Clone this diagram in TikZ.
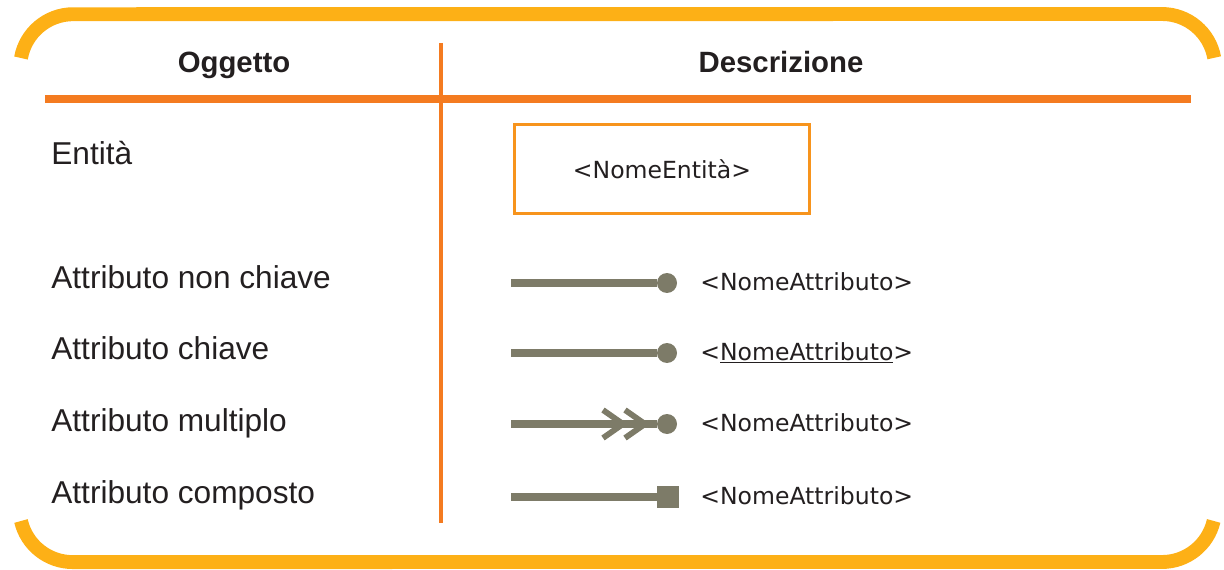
\documentclass[tikz,border=0pt]{standalone}
\usepackage{fontspec}
\setmainfont{Liberation Sans}
\newfontfamily\descfont{DejaVu Sans}
\usepackage{xcolor}
\usepackage{tikz}
\usetikzlibrary{calc}
\usetikzlibrary{positioning}
\definecolor{frameyel}{HTML}{FDB016}
\definecolor{ruleor}{HTML}{F47B20}
\definecolor{boxor}{HTML}{F7941D}
\definecolor{attrgray}{HTML}{7D7B68}
\definecolor{ink}{HTML}{231F20}
\tikzset{>=latex}
\tikzstyle{frame} = [draw=frameyel, line width=7.9pt]
\tikzstyle{head} = [anchor=base, inner sep=0pt, text=ink, font=\bfseries\fontsize{16.7}{20}\selectfont]
\tikzstyle{obj} = [anchor=base west, inner sep=0pt, text=ink, font=\fontsize{18}{20}\selectfont]
\tikzstyle{desc} = [anchor=base west, inner sep=0pt, text=ink, font=\descfont\fontsize{13.4}{16}\selectfont]
\tikzstyle{attr} = [draw=attrgray, line width=4.2pt]
\tikzstyle{chev} = [draw=attrgray, line width=3.3pt]
\tikzstyle{dot} = [circle, fill=attrgray, inner sep=0pt, minimum size=0.4cm]
\tikzstyle{sq} = [rectangle, fill=attrgray, inner sep=0pt, minimum size=0.43cm]

\begin{document}
\begin{tikzpicture}[x=0.02cm, y=0.02cm]
\useasboundingbox (0,0) rectangle (1224,569);
% frame
\draw [frame] (21,511) arc[start angle=170, end angle=90, radius=53] -- (1162,555) arc[start angle=90, end angle=10, radius=53];
\draw [frame] (21,48) arc[start angle=193, end angle=270, radius=53] -- (1162,7) arc[start angle=270, end angle=347, radius=53];
% table rules
\coordinate (hl) at (45,470);
\coordinate (hr) at (1191,470);
\coordinate (vt) at (441,526);
\coordinate (vb) at (441,46);
\draw [draw=ruleor, line width=4.5pt] (hl) -- (hr);
\draw [draw=ruleor, line width=2.3pt] (vt) -- (vb);
% headers
\node [head] (hobj) at (234,496) {Oggetto};
\node [head] (hdesc) at (781,496) {Descrizione};
% left column
\node [obj] (oent) at (51,404) {Entità};
\node [obj] (onk) at (51,281) {Attributo non chiave};
\node [obj] (ok) at (51,210) {Attributo chiave};
\node [obj] (om) at (51,138) {Attributo multiplo};
\node [obj] (oc) at (51,66) {Attributo composto};
% entity
\node [rectangle, draw=boxor, line width=1.7pt, minimum width=5.92cm, minimum height=1.8cm, text=ink, font=\descfont\fontsize{13.4}{16}\selectfont] (ent) at (662,400) {<NomeEntità>};
% attributes
\coordinate (a1) at (511,286);
\coordinate (a2) at (511,216);
\coordinate (a3) at (511,145);
\coordinate (a4) at (511,72);
\node [dot] (d1) at (667,286) {};
\node [dot] (d2) at (667,216) {};
\node [dot] (d3) at (667,145) {};
\node [sq] (d4) at (668,72) {};
\draw [attr] (a1) -- (d1);
\draw [attr] (a2) -- (d2);
\draw [attr] (a3) -- (d3);
\draw [attr] (a4) -- (d4);
\draw [chev] ($(d3.center)+(-64,14)$) -- ++(20,-14) -- ++(-20,-14);
\draw [chev] ($(d3.center)+(-42,14)$) -- ++(20,-14) -- ++(-20,-14);
\node [desc] (t1) at (700,279) {<NomeAttributo>};
\node [desc] (t2) at (700,209) {<\underline{NomeAttributo}>};
\node [desc] (t3) at (700,138) {<NomeAttributo>};
\node [desc] (t4) at (700,65) {<NomeAttributo>};
\end{tikzpicture}
\end{document}
